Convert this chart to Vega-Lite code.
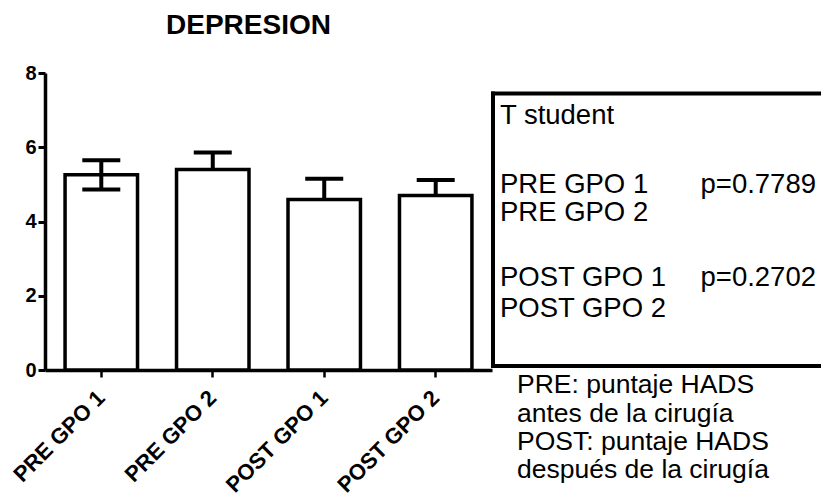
{
  "$schema": "https://vega.github.io/schema/vega-lite/v6.json",
  "background": "white",
  "padding": {"left": 9, "top": 12, "right": 0, "bottom": 0},
  "spacing": 0,
  "bounds": "flush",
  "config": {
    "font": "Liberation Sans",
    "view": {"stroke": null}
  },
  "datasets": {
    "barras": [
      {"grupo": "PRE GPO 1", "media": 5.26, "inf": 4.86, "sup": 5.65},
      {"grupo": "PRE GPO 2", "media": 5.40, "inf": 5.40, "sup": 5.86},
      {"grupo": "POST GPO 1", "media": 4.59, "inf": 4.59, "sup": 5.15},
      {"grupo": "POST GPO 2", "media": 4.70, "inf": 4.70, "sup": 5.12}
    ],
    "topes": [
      {"grupo": "PRE GPO 1", "valor": 5.65},
      {"grupo": "PRE GPO 1", "valor": 4.86},
      {"grupo": "PRE GPO 2", "valor": 5.86},
      {"grupo": "POST GPO 1", "valor": 5.15},
      {"grupo": "POST GPO 2", "valor": 5.12}
    ],
    "caja": [
      {"xa": 0.03, "xb": 0.03, "ya": 0.11, "yb": 7.45},
      {"xa": 0.03, "xb": 9.94, "ya": 7.45, "yb": 7.45},
      {"xa": 0.03, "xb": 9.94, "ya": 0.11, "yb": 0.11}
    ],
    "textos": [
      {"bloque": "caja", "texto": "T student", "col": 0.24, "fila": 6.62},
      {"bloque": "caja", "texto": "PRE GPO 1", "col": 0.24, "fila": 4.77},
      {"bloque": "caja", "texto": "PRE GPO 2", "col": 0.24, "fila": 4.01},
      {"bloque": "caja", "texto": "POST GPO 1", "col": 0.24, "fila": 2.26},
      {"bloque": "caja", "texto": "POST GPO 2", "col": 0.24, "fila": 1.42},
      {"bloque": "caja", "texto": "p=0.7789", "col": 6.3, "fila": 4.77},
      {"bloque": "caja", "texto": "p=0.2702", "col": 6.3, "fila": 2.26},
      {"bloque": "nota", "texto": "PRE: puntaje HADS", "col": 0.755, "fila": -0.62},
      {"bloque": "nota", "texto": "antes de la cirugía", "col": 0.755, "fila": -1.39},
      {"bloque": "nota", "texto": "POST: puntaje HADS", "col": 0.755, "fila": -2.15},
      {"bloque": "nota", "texto": "después de la cirugía", "col": 0.755, "fila": -2.9}
    ]
  },
  "hconcat": [
    {
      "width": 447,
      "height": 297,
      "title": {
        "text": "DEPRESION",
        "fontSize": 28,
        "fontWeight": "bold",
        "color": "black",
        "anchor": "middle",
        "frame": "group",
        "baseline": "alphabetic",
        "offset": 1,
        "dx": -20
      },
      "layer": [
        {
          "data": {"name": "barras"},
          "mark": {"type": "bar", "fill": "white", "stroke": "black", "strokeWidth": 3.5},
          "encoding": {
            "x": {
              "field": "grupo", "type": "nominal",
              "sort": ["PRE GPO 1", "PRE GPO 2", "POST GPO 1", "POST GPO 2"],
              "scale": {"paddingInner": 0.35, "paddingOuter": 0.18},
              "axis": {
                "title": null, "labelAngle": -45, "labelFontSize": 22, "labelFontWeight": "bold",
                "labelColor": "black", "labelAlign": "right", "labelBaseline": "middle", "labelPadding": 17,
                "domainColor": "black", "domainWidth": 3.5, "tickColor": "black", "tickWidth": 2.5,
                "tickSize": 7, "grid": false
              }
            },
            "y": {
              "field": "media", "type": "quantitative",
              "scale": {"domain": [0, 8], "nice": false},
              "axis": {
                "title": null, "values": [0, 2, 4, 6, 8], "format": "d", "labelFontSize": 20,
                "labelFontWeight": "bold", "labelColor": "black", "labelPadding": 2,
                "domainColor": "black", "domainWidth": 3.5, "tickColor": "black", "tickWidth": 3,
                "tickSize": 7, "grid": false
              }
            }
          }
        },
        {
          "data": {"name": "barras"},
          "mark": {"type": "rule", "color": "black", "strokeWidth": 4},
          "encoding": {
            "x": {"field": "grupo", "type": "nominal", "sort": ["PRE GPO 1", "PRE GPO 2", "POST GPO 1", "POST GPO 2"]},
            "y": {"field": "inf", "type": "quantitative"},
            "y2": {"field": "sup"}
          }
        },
        {
          "data": {"name": "topes"},
          "mark": {"type": "tick", "orient": "horizontal", "color": "black", "opacity": 1, "size": 38, "thickness": 4},
          "encoding": {
            "x": {"field": "grupo", "type": "nominal", "sort": ["PRE GPO 1", "PRE GPO 2", "POST GPO 1", "POST GPO 2"]},
            "y": {"field": "valor", "type": "quantitative"}
          }
        }
      ]
    },
    {
      "width": 331,
      "height": 297,
      "layer": [
        {
          "data": {"name": "caja"},
          "mark": {"type": "rule", "color": "black", "strokeWidth": 4, "strokeCap": "square"},
          "encoding": {
            "x": {"field": "xa", "type": "quantitative", "scale": {"domain": [0, 10], "nice": false}, "axis": null},
            "x2": {"field": "xb"},
            "y": {"field": "ya", "type": "quantitative", "scale": {"domain": [0, 8], "nice": false}, "axis": null},
            "y2": {"field": "yb"}
          }
        },
        {
          "data": {"name": "textos"},
          "transform": [{"filter": "datum.bloque === 'caja'"}],
          "mark": {"type": "text", "align": "left", "baseline": "alphabetic", "fontSize": 27.5, "color": "black"},
          "encoding": {
            "x": {"field": "col", "type": "quantitative"},
            "y": {"field": "fila", "type": "quantitative"},
            "text": {"field": "texto"}
          }
        },
        {
          "data": {"name": "textos"},
          "transform": [{"filter": "datum.bloque === 'nota'"}],
          "mark": {"type": "text", "align": "left", "baseline": "alphabetic", "fontSize": 26.5, "color": "black"},
          "encoding": {
            "x": {"field": "col", "type": "quantitative"},
            "y": {"field": "fila", "type": "quantitative"},
            "text": {"field": "texto"}
          }
        }
      ]
    }
  ]
}
